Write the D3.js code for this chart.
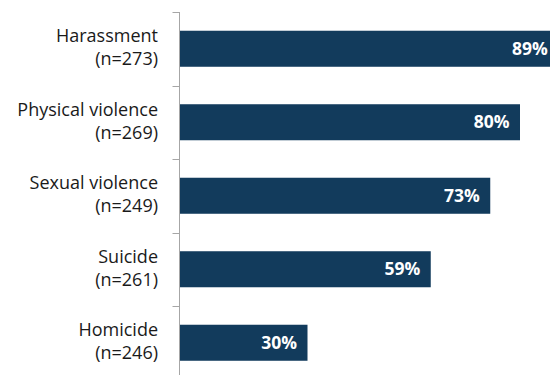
<!DOCTYPE html>
<html>
<head>
<meta charset="utf-8">
<script src="https://cdn.jsdelivr.net/npm/d3@7"></script>
<style>
  html, body { margin: 0; padding: 0; background: #fff; overflow: hidden; }
  svg { display: block; }
</style>
</head>
<body>
<svg id="chart" width="550" height="375"></svg>
<script>
// Share of respondents by type of event
const categories = ["Harassment", "Physical violence", "Sexual violence", "Suicide", "Homicide"];
const sampleSizes = ["(n=273)", "(n=269)", "(n=249)", "(n=261)", "(n=246)"];
const values = [89, 80, 73, 59, 30];

const svg = d3.select("#chart");
const axisX = 179.5;
const font = "'Open Sans', Lato, 'Liberation Sans', sans-serif";

const x = d3.scaleLinear().domain([0, 100]).range([axisX, axisX + 425]);
const y = d3.scaleBand().domain(categories).range([12, 379.5]).paddingInner(0.51).paddingOuter(0.255);

// Bars
svg.selectAll("rect.bar")
  .data(values)
  .join("rect")
  .attr("class", "bar")
  .attr("x", x(0) + 0.5)
  .attr("y", (d, i) => y(categories[i]))
  .attr("width", d => x(d) - x(0))
  .attr("height", y.bandwidth())
  .attr("fill", "#123b5c");

// Value labels inside the bar ends
svg.selectAll("text.val")
  .data(values)
  .join("text")
  .attr("class", "val")
  .attr("x", d => x(d) - 10)
  .attr("y", (d, i) => y(categories[i]) + y.bandwidth() / 2 + 6)
  .attr("text-anchor", "end")
  .attr("fill", "#fff")
  .attr("font-family", font)
  .attr("font-weight", "bold")
  .attr("font-size", 17.5)
  .text(d => d + "%");

// Category axis: vertical line with ticks at band boundaries
const step = y.step();
const boundaries = d3.range(categories.length + 1).map(i => 12 + i * step);
svg.append("line")
  .attr("x1", axisX).attr("x2", axisX)
  .attr("y1", 12).attr("y2", 380)
  .attr("stroke", "#a6a6a6").attr("stroke-width", 1);
svg.selectAll("line.tick")
  .data(boundaries)
  .join("line")
  .attr("class", "tick")
  .attr("x1", axisX - 7).attr("x2", axisX)
  .attr("y1", d => Math.round(d) + 0.5).attr("y2", d => Math.round(d) + 0.5)
  .attr("stroke", "#a6a6a6").attr("stroke-width", 1);

// Two-line category labels
const labels = svg.selectAll("text.cat")
  .data(categories)
  .join("text")
  .attr("class", "cat")
  .attr("text-anchor", "end")
  .attr("fill", "#1a1a1a")
  .attr("font-family", font)
  .attr("font-size", 18);
labels.append("tspan")
  .attr("x", 158)
  .attr("y", d => y(d) + y.bandwidth() / 2 - 6.5)
  .text(d => d);
labels.append("tspan")
  .attr("x", 158)
  .attr("y", d => y(d) + y.bandwidth() / 2 + 16.5)
  .text((d, i) => sampleSizes[i]);
</script>
</body>
</html>
